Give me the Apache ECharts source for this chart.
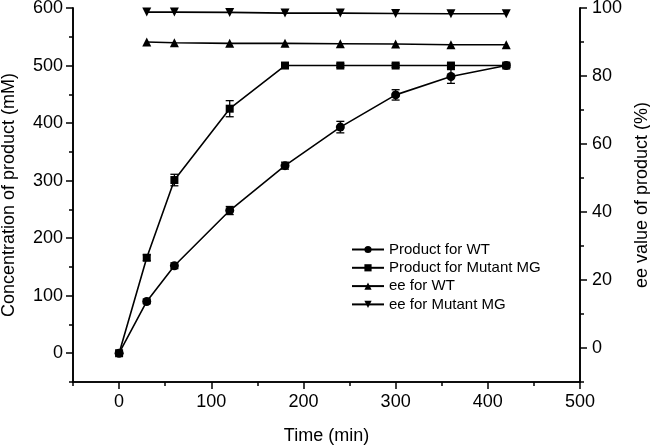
<!DOCTYPE html>
<html><head><meta charset="utf-8">
<script src="https://cdn.jsdelivr.net/npm/echarts@6/dist/echarts.min.js"></script>
<style>html,body{margin:0;padding:0;background:#fff}#c{width:650px;height:447px}</style>
</head><body><div id="c"></div>
<script>
const timeProduct = [0, 30, 60, 120, 180, 240, 300, 360, 420];
const productWT = [0, 90, 152, 248, 326, 393, 449, 481, 500];
const productWTErr = [0, 4, 5, 7, 6, 10, 9, 12, 3];
const productMG = [0, 166, 301, 425, 500, 500, 500, 500, 500];
const productMGErr = [0, 5, 10, 14, 3, 3, 3, 3, 3];
const timeEE = [30, 60, 120, 180, 240, 300, 360, 420];
const eeWT = [90.0, 89.8, 89.6, 89.6, 89.5, 89.4, 89.2, 89.2];
const eeMG = [98.8, 98.8, 98.7, 98.5, 98.5, 98.4, 98.3, 98.3];
const xMajorTicks = [0, 100, 200, 300, 400, 500];
const yLeftMajorTicks = [0, 100, 200, 300, 400, 500, 600];
const yRightMajorTicks = [0, 20, 40, 60, 80, 100];

const FONT = '"Liberation Sans", Arial, sans-serif';
const BLACK = '#000';
const zip = (xs, ys) => xs.map((x, i) => [x, ys[i]]);
const errData = (xs, ys, es) => xs.map((x, i) => [x, ys[i] - es[i], ys[i] + es[i]]);

function errRender(params, api) {
  const x = api.value(0);
  const lo = api.coord([x, api.value(1)]);
  const hi = api.coord([x, api.value(2)]);
  const w = 4;
  const st = { stroke: BLACK, lineWidth: 1.3 };
  return { type: 'group', children: [
    { type: 'line', shape: { x1: lo[0], y1: lo[1], x2: hi[0], y2: hi[1] }, style: st },
    { type: 'line', shape: { x1: lo[0] - w, y1: lo[1], x2: lo[0] + w, y2: lo[1] }, style: st },
    { type: 'line', shape: { x1: hi[0] - w, y1: hi[1], x2: hi[0] + w, y2: hi[1] }, style: st }
  ]};
}

const axLine = { show: true, onZero: false, lineStyle: { color: BLACK, width: 1.6 } };
const labelStyle = { color: BLACK, fontFamily: FONT, fontSize: 18 };
const nameStyle = { color: BLACK, fontFamily: FONT, fontSize: 18 };

const chart = echarts.init(document.getElementById('c'), null, { renderer: 'canvas' });
chart.setOption({
  animation: false,
  backgroundColor: '#fff',
  grid: { left: 73, right: 70, top: 8, bottom: 65, containLabel: false, outerBoundsMode: 'none' },
  legend: {
    orient: 'vertical', left: 346, top: 237,
    itemWidth: 32, itemHeight: 9, itemGap: 3.3,
    textStyle: { color: BLACK, fontFamily: FONT, fontSize: 15, lineHeight: 15 },
    data: ['Product for WT', 'Product for Mutant MG', 'ee for WT', 'ee for Mutant MG']
  },
  xAxis: [
    { type: 'value', min: -50, max: 500, interval: 50, position: 'bottom',
      axisLine: axLine, splitLine: { show: false },
      axisTick: { show: true, inside: false, length: 4, lineStyle: { color: BLACK, width: 1.5 } },
      axisLabel: { show: false } },
    { type: 'value', min: -50, max: 500, position: 'bottom',
      name: 'Time (min)', nameLocation: 'middle', nameGap: 45, nameTextStyle: nameStyle,
      axisLine: axLine, splitLine: { show: false },
      axisTick: { show: true, length: 7, customValues: xMajorTicks, lineStyle: { color: BLACK, width: 1.5 } },
      axisLabel: Object.assign({ margin: 11, customValues: xMajorTicks }, labelStyle) }
  ],
  yAxis: [
    { type: 'value', min: -50, max: 600, interval: 50, position: 'left',
      axisLine: axLine, splitLine: { show: false },
      axisTick: { show: true, length: 4, lineStyle: { color: BLACK, width: 1.5 } },
      axisLabel: { show: false } },
    { type: 'value', min: -50, max: 600, position: 'left',
      name: 'Concentration of product (mM)', nameLocation: 'middle', nameGap: 55, nameRotate: 90,
      nameTextStyle: nameStyle,
      axisLine: axLine, splitLine: { show: false },
      axisTick: { show: true, length: 7, customValues: yLeftMajorTicks, lineStyle: { color: BLACK, width: 1.5 } },
      axisLabel: Object.assign({ margin: 10, customValues: yLeftMajorTicks }, labelStyle) },
    { type: 'value', min: -10, max: 100, interval: 10, position: 'right',
      axisLine: axLine, splitLine: { show: false },
      axisTick: { show: true, length: 4, lineStyle: { color: BLACK, width: 1.5 } },
      axisLabel: { show: false } },
    { type: 'value', min: -10, max: 100, position: 'right',
      name: 'ee value of product (%)', nameLocation: 'middle', nameGap: 52, nameRotate: 90,
      nameTextStyle: nameStyle,
      axisLine: axLine, splitLine: { show: false },
      axisTick: { show: true, length: 7, customValues: yRightMajorTicks, lineStyle: { color: BLACK, width: 1.5 } },
      axisLabel: Object.assign({ margin: 12, customValues: yRightMajorTicks }, labelStyle) }
  ],
  series: [
    { type: 'custom', xAxisIndex: 0, yAxisIndex: 0, renderItem: errRender,
      data: errData(timeProduct, productWT, productWTErr), z: 3, silent: true },
    { type: 'custom', xAxisIndex: 0, yAxisIndex: 0, renderItem: errRender,
      data: errData(timeProduct, productMG, productMGErr), z: 3, silent: true },
    { name: 'Product for WT', type: 'line', xAxisIndex: 0, yAxisIndex: 0,
      data: zip(timeProduct, productWT), symbol: 'circle', symbolSize: 9,
      lineStyle: { color: BLACK, width: 1.6 }, itemStyle: { color: BLACK }, z: 4 },
    { name: 'Product for Mutant MG', type: 'line', xAxisIndex: 0, yAxisIndex: 0,
      data: zip(timeProduct, productMG), symbol: 'rect', symbolSize: 8,
      lineStyle: { color: BLACK, width: 1.6 }, itemStyle: { color: BLACK }, z: 4 },
    { name: 'ee for WT', type: 'line', xAxisIndex: 0, yAxisIndex: 2,
      data: zip(timeEE, eeWT), symbol: 'triangle', symbolSize: 9,
      lineStyle: { color: BLACK, width: 1.6 }, itemStyle: { color: BLACK }, z: 4 },
    { name: 'ee for Mutant MG', type: 'line', xAxisIndex: 0, yAxisIndex: 2,
      data: zip(timeEE, eeMG), symbol: 'triangle', symbolRotate: 180, symbolSize: 9,
      lineStyle: { color: BLACK, width: 1.6 }, itemStyle: { color: BLACK }, z: 4 }
  ]
});
</script></body></html>
